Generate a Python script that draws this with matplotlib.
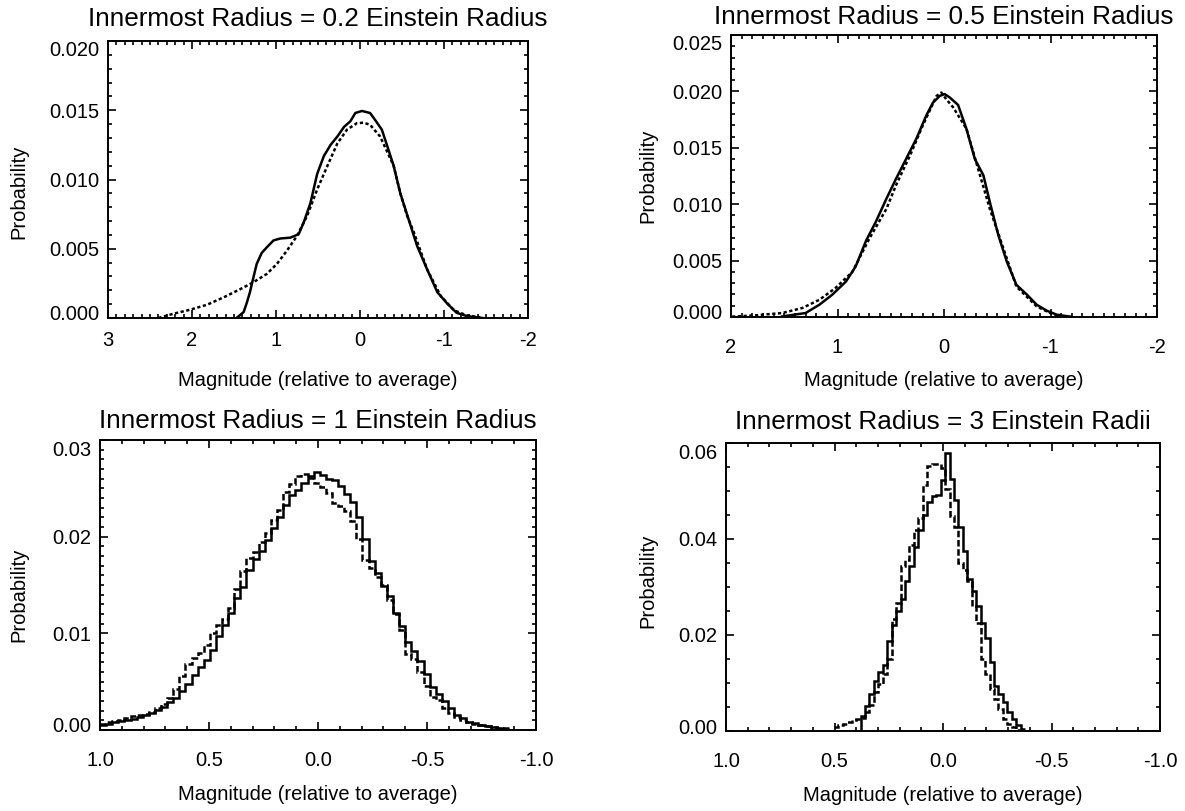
import numpy as np
import matplotlib
matplotlib.use('Agg')
from matplotlib import pyplot as plt
from matplotlib.ticker import MultipleLocator, FormatStrFormatter
from matplotlib.transforms import ScaledTranslation

plt.rcParams['font.family'] = ['Liberation Sans', 'DejaVu Sans']
plt.rcParams['axes.unicode_minus'] = False

# ---- panel 1: innermost radius 0.2 R_E (fine histogram, drawn as lines) ----
p1_solid_mag = [1.47, 1.385, 1.345, 1.31, 1.27, 1.23, 1.17, 1.11, 1.03, 0.95, 0.83, 0.73, 0.67,
                0.59, 0.51, 0.43, 0.35, 0.27, 0.19, 0.115, 0.056, -0.024, -0.12, -0.18, -0.26,
                -0.32, -0.40, -0.48, -0.58, -0.68, -0.80, -0.92, -1.04, -1.15, -1.27, -1.39, -1.46]
p1_solid_prob = [0.0, 0.43, 1.15, 1.87, 2.9, 3.9, 4.7, 5.1, 5.6, 5.74, 5.8, 6.05, 6.9,
                 8.3, 10.4, 11.7, 12.5, 13.1, 13.8, 14.2, 14.8, 14.95, 14.8, 14.3, 13.6,
                 12.5, 11.0, 9.0, 7.1, 5.2, 3.5, 1.87, 1.03, 0.38, 0.14, 0.05, 0.0]
p1_dot_mag = [2.40, 2.22, 2.02, 1.82, 1.62, 1.42, 1.27, 1.11, 0.99, 0.87, 0.75, 0.63, 0.51,
              0.39, 0.27, 0.155, 0.036, -0.044, -0.12, -0.24, -0.40, -0.48, -0.56, -0.64,
              -0.80, -0.96, -1.12, -1.27, -1.43]
p1_dot_prob = [0.0, 0.31, 0.6, 0.96, 1.5, 2.1, 2.58, 3.18, 3.9, 4.86, 5.93, 7.37, 9.28,
               10.96, 12.6, 13.6, 14.07, 14.1, 13.95, 13.1, 11.0, 9.0, 7.4, 6.2,
               3.5, 1.6, 0.55, 0.19, 0.05]

# ---- panel 2: innermost radius 0.5 R_E ----
p2_solid_mag = [1.52, 1.30, 1.17, 1.05, 0.92, 0.83, 0.73, 0.64, 0.54, 0.45, 0.355, 0.26, 0.167,
                0.104, 0.04, -0.006, -0.053, -0.132, -0.21, -0.29, -0.37, -0.43, -0.51, -0.59,
                -0.68, -0.78, -0.87, -0.965, -1.06, -1.19]
p2_solid_prob = [0.05, 0.35, 1.09, 1.97, 3.15, 4.47, 6.8, 8.44, 10.5, 12.26, 14.03, 15.8, 17.85,
                 19.0, 19.6, 19.76, 19.47, 18.8, 16.7, 14.0, 12.56, 10.2, 7.26, 4.9,
                 2.85, 1.97, 1.09, 0.56, 0.2, 0.03]
p2_dot_mag = [1.99, 1.77, 1.52, 1.33, 1.17, 1.02, 0.86, 0.70, 0.54, 0.45, 0.32, 0.20, 0.07,
              0.025, -0.022, -0.085, -0.21, -0.43, -0.68, -0.87, -1.03, -1.12]
p2_dot_prob = [0.03, 0.15, 0.35, 0.8, 1.53, 2.56, 4.0, 6.97, 9.6, 11.7, 14.3, 16.97, 19.6,
               19.9, 19.3, 18.6, 16.7, 9.6, 2.7, 0.94, 0.2, 0.03]

# ---- panel 3: innermost radius 1 R_E (histogram, bins from 1.0 downwards) ----
p3_first_edge = 1.0
p3_bin_width = 0.028
p3_solid = [0.5, 0.65, 0.8, 0.95, 1.05, 1.15, 1.3, 1.55, 1.8, 2.1, 2.4, 2.85, 3.3, 4.0, 4.8,
            5.7, 6.5, 7.2, 8.3, 9.7, 10.9, 12.1, 13.7, 14.8, 16.6, 17.7, 18.5, 19.7, 20.9,
            22.0, 23.3, 24.3, 24.8, 25.6, 26.3, 26.7, 26.4, 26.0, 25.9, 25.2, 24.4, 23.6,
            22.0, 19.8, 17.5, 16.2, 14.9, 13.9, 12.1, 10.8, 9.1, 8.2, 7.1, 5.8, 4.4, 3.7,
            3.0, 2.3, 1.6, 1.2, 0.8, 0.7, 0.55, 0.4, 0.28, 0.18, 0.1]
p3_dash = [0.65, 0.8, 0.95, 1.05, 1.25, 1.45, 1.6, 1.7, 1.85, 2.25, 2.65, 3.3, 4.2, 5.6, 6.8,
           7.5, 7.95, 8.8, 10.0, 10.9, 11.5, 12.6, 14.6, 16.5, 17.8, 18.4, 19.4, 20.4, 21.7,
           22.8, 24.6, 25.4, 26.3, 26.5, 26.1, 25.6, 25.1, 24.5, 23.5, 23.2, 22.7, 21.6,
           19.8, 17.6, 16.8, 15.8, 15.0, 13.5, 12.0, 10.3, 7.9, 7.3, 6.0, 4.6, 3.4, 3.1,
           2.3, 1.8, 1.3, 1.0, 0.8, 0.6, 0.5, 0.4, 0.3, 0.25, 0.2]

# ---- panel 4: innermost radius 3 R_E ----
p4_first_edge = 0.503
p4_bin_width = 0.0205
p4_solid = [0, 0, 0, 0, 0, 0, 3.2, 5.3, 7.7, 10.5, 12.3, 13.7, 18.8, 22.0, 25.0, 27.5, 31.2,
            34.4, 38.4, 41.9, 45.0, 47.7, 49.0, 49.2, 52.2, 57.9, 52.5, 48.1, 42.6, 37.4,
            31.7, 29.1, 26.0, 22.6, 19.4, 14.3, 9.4, 7.7, 6.0, 3.9, 2.4, 1.2, 0.5]
p4_dash = [0.8, 1.2, 1.5, 1.9, 2.2, 2.5, 2.8, 3.9, 5.4, 8.1, 9.8, 11.9, 15.0, 23.4, 26.7, 34.3,
           35.7, 38.8, 41.9, 44.3, 51.2, 55.3, 55.7, 55.7, 54.8, 50.5, 44.8, 42.6, 35.0, 33.6,
           31.2, 26.0, 22.6, 15.0, 11.9, 8.8, 6.7, 4.6, 2.6, 1.5, 0.8, 0.3, 0.1]

titles = ['Innermost Radius = 0.2 Einstein Radius', 'Innermost Radius = 0.5 Einstein Radius',
          'Innermost Radius = 1 Einstein Radius', 'Innermost Radius = 3 Einstein Radii']

W, H = 1185, 811
fig = plt.figure(figsize=(W / 100, H / 100), dpi=100)


def px_axes(left, top, right, bottom):
    return fig.add_axes([left / W, 1 - bottom / H, (right - left) / W, (bottom - top) / H])


axs = [px_axes(108, 41, 528, 318), px_axes(731, 35, 1157, 317),
       px_axes(100, 440, 536, 730), px_axes(726, 443, 1160, 731)]

LW = 1.8
dot_dash = (1.3, 1.0)
long_dash = (2.6, 1.1)

ax = axs[0]
ax.plot(p1_solid_mag, np.array(p1_solid_prob) / 1000, color='k', lw=LW)
ax.plot(p1_dot_mag, np.array(p1_dot_prob) / 1000, color='k', lw=LW, dashes=dot_dash)

ax = axs[1]
ax.plot(p2_solid_mag, np.array(p2_solid_prob) / 1000, color='k', lw=LW)
ax.plot(p2_dot_mag, np.array(p2_dot_prob) / 1000, color='k', lw=LW, dashes=dot_dash)

ax = axs[2]
p3_edges = p3_first_edge - p3_bin_width * np.arange(len(p3_solid) + 1)
ax.stairs(np.array(p3_solid) / 1000, p3_edges, baseline=None, color='k', lw=LW)
ax.stairs(np.array(p3_dash) / 1000, p3_edges, baseline=None, color='k', lw=LW,
          linestyle=(0, long_dash))

ax = axs[3]
p4_edges = p4_first_edge - p4_bin_width * np.arange(len(p4_solid) + 1)
ax.stairs(np.array(p4_solid) / 1000, p4_edges, baseline=None, color='k', lw=LW)
ax.stairs(np.array(p4_dash) / 1000, p4_edges, baseline=None, color='k', lw=LW,
          linestyle=(0, long_dash))

# axis setup: xlim, ylim, x major/minor, y major/minor, y format, x format
setups = [((3, -2), (0, 0.020), 1, 0.1, 0.005, 0.001, '%.3f', '%d'),
          ((2, -2), (0, 0.025), 1, 0.1, 0.005, 0.001, '%.3f', '%d'),
          ((1, -1), (0, 0.030), 0.5, 0.1, 0.01, 0.001, '%.2f', '%.1f'),
          ((1, -1), (0, 0.060), 0.5, 0.1, 0.02, 0.005, '%.2f', '%.1f')]
title_pads = [10.5, 8.0, 8.6, 10.0]
xtick_pads = [9, 15, 15, 15]
ylabel_x = [-0.19, -0.174, -0.165, -0.157]
ylabel_y = [0.455, 0.5, 0.465, 0.52]

for i, ax in enumerate(axs):
    xlim, ylim, xmaj, xmin, ymaj, ymin, yfmt, xfmt = setups[i]
    ax.set_xlim(*xlim)
    ax.set_ylim(*ylim)
    ax.xaxis.set_major_locator(MultipleLocator(xmaj))
    ax.xaxis.set_minor_locator(MultipleLocator(xmin))
    ax.yaxis.set_major_locator(MultipleLocator(ymaj))
    ax.yaxis.set_minor_locator(MultipleLocator(ymin))
    ax.yaxis.set_major_formatter(FormatStrFormatter(yfmt))
    ax.xaxis.set_major_formatter(FormatStrFormatter(xfmt))
    for sp in ax.spines.values():
        sp.set_linewidth(1.4)
    ax.tick_params(which='both', direction='in', top=True, right=True, width=1.2, labelsize=14.5)
    ax.tick_params(which='major', length=6)
    ax.tick_params(which='minor', length=3)
    ax.tick_params(axis='x', which='major', pad=xtick_pads[i])
    ax.tick_params(axis='y', which='major', pad=6)
    ax.set_title(titles[i], fontsize=18.8, pad=title_pads[i])
    ax.set_xlabel('Magnitude (relative to average)', fontsize=14.5)
    ax.set_ylabel('Probability', fontsize=14.5)
    ax.xaxis.set_label_coords(0.5, -0.19)
    ax.yaxis.set_label_coords(ylabel_x[i], ylabel_y[i])

    # IDL puts the end labels of the y axis a little inside the axis range
    labels = ax.get_yticklabels()
    locs = ax.get_yticks()
    for lab, loc in zip(labels, locs):
        if np.isclose(loc, ylim[1]):
            lab.set_transform(lab.get_transform() + ScaledTranslation(0, -8 / 100, fig.dpi_scale_trans))
        elif np.isclose(loc, ylim[0]):
            lab.set_transform(lab.get_transform() + ScaledTranslation(0, 5 / 100, fig.dpi_scale_trans))

fig.savefig('out.png', dpi=100)
